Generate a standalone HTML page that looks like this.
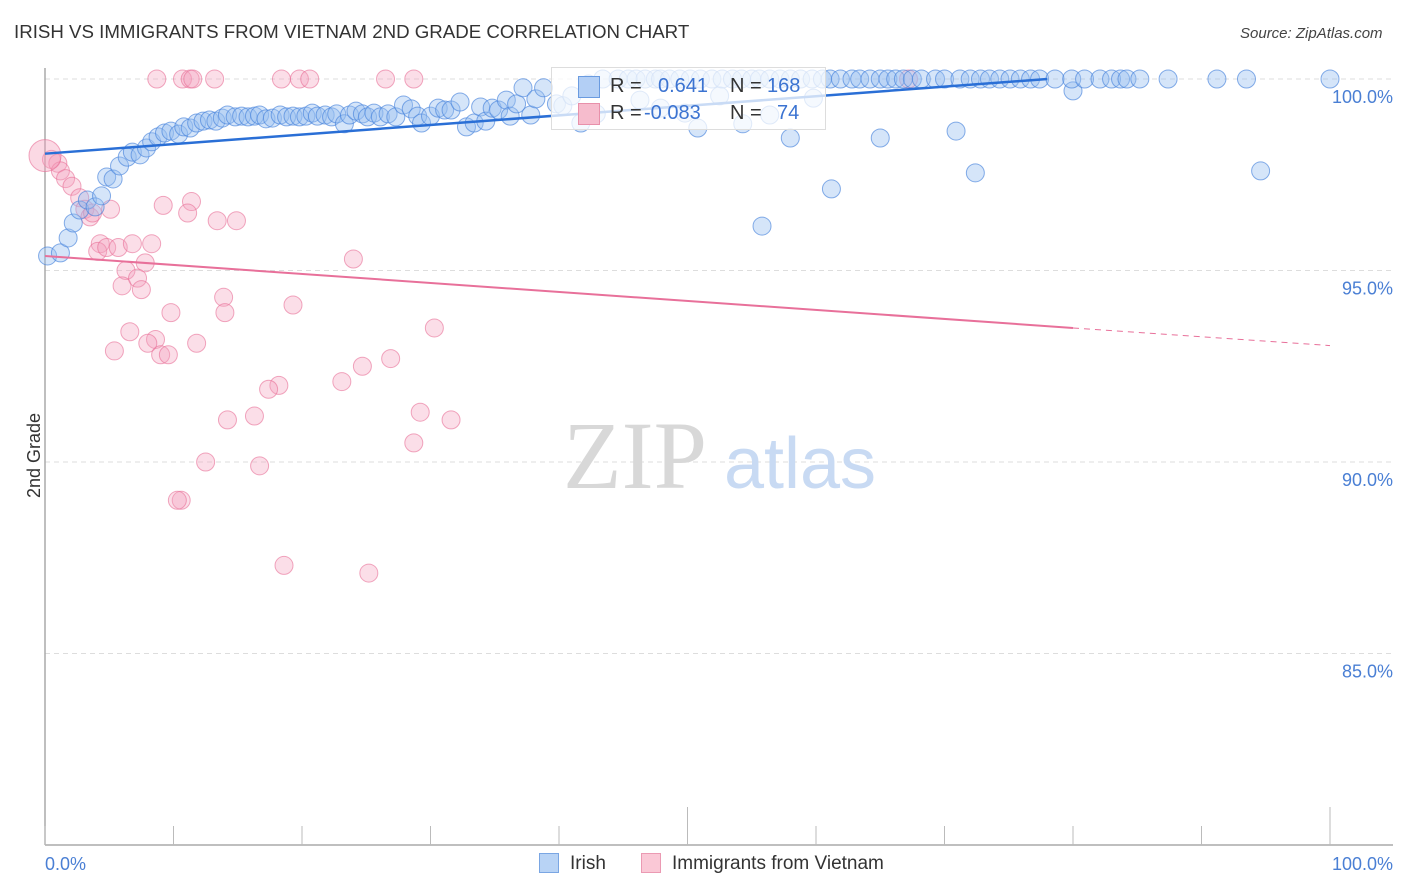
<!DOCTYPE html>
<html><head><meta charset="utf-8"><style>
body{margin:0;background:#fff;font-family:"Liberation Sans",sans-serif;}
#wrap{position:relative;width:1406px;height:892px;overflow:hidden;}
.t{position:absolute;white-space:nowrap;}
</style></head><body>
<div id="wrap">
<div class="t" style="left:14px;top:21px;font-size:18.7px;color:#333;">IRISH VS IMMIGRANTS FROM VIETNAM 2ND GRADE CORRELATION CHART</div>
<div class="t" style="left:1240px;top:25px;font-size:15px;color:#444;font-style:italic;">Source: ZipAtlas.com</div>
<div class="t" style="left:-8px;top:445px;font-size:18px;color:#333;transform:rotate(-90deg);">2nd Grade</div>
<svg id="svg" width="1406" height="892" style="position:absolute;left:0;top:0"></svg>
</div>
<script>
const yTicks=[100,95,90,85];
const yTickLabels=["100.0%","95.0%","90.0%","85.0%"];
const xTickLabels=["0.0%","100.0%"];
const irishX=[0.2,1.2,1.8,2.2,2.7,3.3,3.9,4.4,4.8,5.3,5.8,6.4,6.8,7.4,7.9,8.3,8.8,9.3,9.8,10.4,10.8,11.3,11.8,12.3,12.8,13.3,13.8,14.2,14.8,15.3,15.8,16.3,16.7,17.2,17.7,18.3,18.8,19.3,19.8,20.3,20.8,21.2,21.8,22.3,22.7,23.3,23.7,24.2,24.7,25.1,25.6,26.1,26.7,27.3,27.9,28.5,29.0,29.3,30.0,30.6,31.1,31.6,32.3,32.8,33.4,33.9,34.3,34.8,35.3,35.9,36.2,36.7,37.2,37.8,38.2,38.8,39.8,40.3,41.0,41.7,42.3,42.9,50.8,54.3,58.0,59.8,65.0,70.9,80.0,55.8,61.2,72.4,94.6,56.4,49.8,46.3,47.9,52.5,
43.4,44.6,45.4,46.0,46.7,47.5,47.9,48.6,49.4,50.2,51.0,51.9,52.7,53.5,54.2,55.0,55.6,56.4,57.2,58.0,58.8,59.7,60.5,61.1,61.9,62.8,63.4,64.2,65.0,65.6,66.2,66.8,67.5,68.2,69.3,70.0,71.2,72.0,72.8,73.5,74.3,75.1,75.9,76.7,77.4,78.6,79.9,80.9,82.1,83.0,83.7,84.2,85.2,87.4,91.2,93.5,100];
const irishY=[95.38,95.46,95.85,96.24,96.58,96.84,96.66,96.95,97.44,97.39,97.73,97.96,98.09,98.02,98.2,98.36,98.49,98.59,98.64,98.56,98.75,98.72,98.85,98.9,98.93,98.9,98.98,99.06,99.01,99.03,99.01,99.03,99.06,98.96,98.98,99.06,99.01,99.03,99.01,99.03,99.11,99.03,99.06,99.01,99.09,98.83,99.06,99.16,99.09,99.01,99.11,99.01,99.09,99.01,99.32,99.22,99.03,98.85,99.03,99.24,99.19,99.19,99.4,98.75,98.85,99.27,98.9,99.24,99.19,99.45,99.03,99.35,99.77,99.06,99.48,99.77,99.35,99.3,99.56,98.85,99.87,99.09,98.72,98.83,98.46,99.5,98.46,98.64,99.69,96.16,97.13,97.55,97.6,99.06,99.11,99.45,99.24,99.56,
100,100,100,100,100,100,100,100,100,100,100,100,100,100,100,100,100,100,100,100,100,100,100,100,100,100,100,100,100,100,100,100,100,100,100,100,100,100,100,100,100,100,100,100,100,100,100,100,100,100,100,100,100,100,100,100,100];
const vietX=[8.7,10.7,11.3,11.5,13.2,18.4,19.8,20.6,26.5,28.7,67.2,0.5,1.0,1.2,1.6,2.1,2.7,3.1,3.5,3.7,5.1,9.2,11.4,11.1,13.4,14.9,4.3,4.1,4.8,5.7,6.8,8.3,7.8,6.3,6.0,7.2,7.5,13.9,14.0,19.3,9.8,6.6,8.6,8.0,9.0,9.6,5.4,11.8,24.0,30.3,26.9,24.7,23.1,18.2,17.4,29.2,31.6,16.3,14.2,28.7,12.5,16.7,10.6,10.3,18.6,25.2];
const vietY=[100,100,100,100,100,100,100,100,100,100,100,97.9,97.8,97.6,97.4,97.2,96.9,96.6,96.4,96.5,96.6,96.7,96.8,96.5,96.3,96.3,95.7,95.5,95.6,95.6,95.7,95.7,95.2,95.0,94.6,94.8,94.5,94.3,93.9,94.1,93.9,93.4,93.2,93.1,92.8,92.8,92.9,93.1,95.3,93.5,92.7,92.5,92.1,92.0,91.9,91.3,91.1,91.2,91.1,90.5,90.0,89.9,89.0,89.0,87.3,87.1];
const irishTrend=[[0,98.05],[78,100]];
const vietTrend=[[0,95.38],[80,93.5],[100,93.04]];
const NS="http://www.w3.org/2000/svg";
const svg=document.getElementById('svg');
const sx=v=>45+v*12.85;
const sy=v=>79+(100-v)*38.3;
function mk(t,a){const e=document.createElementNS(NS,t);for(const k in a)e.setAttribute(k,a[k]);svg.appendChild(e);return e;}
yTicks.forEach((v,i)=>{
 const g=mk('line',{x1:45,x2:1393,y1:sy(v),y2:sy(v),stroke:'#ddd','stroke-dasharray':'5,4','stroke-width':1});
 
 
 const t=mk('text',{x:1393,y:sy(v)+24,'text-anchor':'end','font-size':18,fill:'#4a7fd4','font-family':'Liberation Sans, sans-serif'});
 t.textContent=yTickLabels[i];
 
 
});
let a=mk('line',{x1:45,x2:45,y1:68,y2:845,stroke:'#aaa','stroke-width':1.5});


a=mk('line',{x1:45,x2:1393,y1:845,y2:845,stroke:'#aaa','stroke-width':1.5});


for(let i=0;i<=10;i++){
 const long=(i==5||i==10);
 const tk=mk('line',{x1:sx(i*10),x2:sx(i*10),y1:long?807:826,y2:845,stroke:'#bbb','stroke-width':1});
 
 
}
[[0,'start'],[100,'end']].forEach((p,i)=>{
 const t=mk('text',{x:p[0]==0?45:1393,y:870,'text-anchor':p[1],'font-size':18,fill:'#4a7fd4','font-family':'Liberation Sans, sans-serif'});
 t.textContent=xTickLabels[i];
 
 
});
let w=mk('text',{x:635,y:488,'text-anchor':'middle','font-size':96,fill:'#d8d8d8','font-family':'Liberation Serif, serif'});
w.textContent='ZIP';


w=mk('text',{x:800,y:488,'text-anchor':'middle','font-size':72,fill:'#c8daf3','font-family':'Liberation Sans, sans-serif'});
w.textContent='atlas';


vietX.forEach((x,i)=>{
 const c=mk('circle',{cx:sx(x),cy:sy(vietY[i]),r:9,fill:'rgba(244,160,188,0.35)',stroke:'rgba(232,110,150,0.6)','stroke-width':1});
 
 
});
let big=mk('circle',{cx:sx(0),cy:sy(98.0),r:16,fill:'rgba(244,160,188,0.4)',stroke:'rgba(232,110,150,0.6)','stroke-width':1});


irishX.forEach((x,i)=>{
 const c=mk('circle',{cx:sx(x),cy:sy(irishY[i]),r:9,fill:'rgba(150,190,240,0.4)',stroke:'rgba(70,130,220,0.65)','stroke-width':1});
 
 
});
let l=mk('line',{x1:sx(irishTrend[0][0]),y1:sy(irishTrend[0][1]),x2:sx(irishTrend[1][0]),y2:sy(irishTrend[1][1]),stroke:'#2a6fd6','stroke-width':2.5});


l=mk('line',{x1:sx(vietTrend[0][0]),y1:sy(vietTrend[0][1]),x2:sx(vietTrend[1][0]),y2:sy(vietTrend[1][1]),stroke:'#e8709a','stroke-width':2});


l=mk('line',{x1:sx(vietTrend[1][0]),y1:sy(vietTrend[1][1]),x2:sx(vietTrend[2][0]),y2:sy(vietTrend[2][1]),stroke:'#e8709a','stroke-width':1,'stroke-dasharray':'6,5'});


</script>
<div style="position:absolute;left:551px;top:67px;width:275px;height:63px;background:rgba(255,255,255,0.75);border:1px solid #ddd;box-sizing:border-box;font-size:20px;">
 <div style="position:absolute;left:26px;top:8px;width:20px;height:20px;background:#b3cff5;border:1px solid #6a9be0;"></div>
 <div class="t" style="left:58px;top:7px;color:#333;">R =</div>
 <div class="t" style="left:106px;top:7px;color:#3b73d1;">0.641</div>
 <div class="t" style="left:178px;top:7px;color:#333;">N =</div>
 <div class="t" style="left:215px;top:7px;color:#3b73d1;">168</div>
 <div style="position:absolute;left:26px;top:35px;width:20px;height:20px;background:#f6bccd;border:1px solid #e890aa;"></div>
 <div class="t" style="left:58px;top:34px;color:#333;">R =</div>
 <div class="t" style="left:92px;top:34px;color:#3b73d1;">-0.083</div>
 <div class="t" style="left:178px;top:34px;color:#333;">N =</div>
 <div class="t" style="left:225px;top:34px;color:#3b73d1;">74</div>
</div>
<div style="position:absolute;left:539px;top:853px;">
 <div style="position:absolute;left:0;top:0;width:20px;height:20px;background:#b8d3f5;border:1px solid #7aa6e3;box-sizing:border-box;"></div>
 <div class="t" style="left:31px;top:0px;font-size:19px;color:#333;">Irish</div>
</div>
<div style="position:absolute;left:641px;top:853px;">
 <div style="position:absolute;left:0;top:0;width:20px;height:20px;background:#fac8d6;border:1px solid #eb9ab3;box-sizing:border-box;"></div>
 <div class="t" style="left:31px;top:0px;font-size:19px;color:#333;">Immigrants from Vietnam</div>
</div>
</body></html>
